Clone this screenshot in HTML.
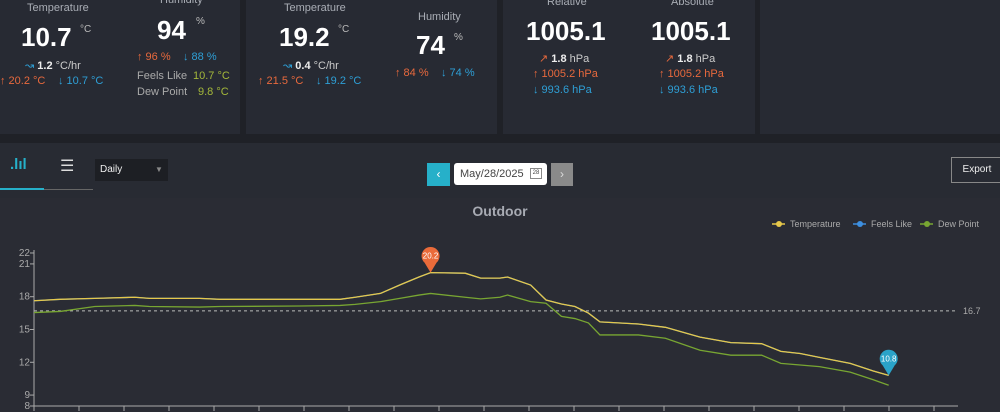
<!DOCTYPE html>
<html><head><meta charset="utf-8"><style>
body{margin:0;width:1000px;height:412px;overflow:hidden;background:#1f2127;font-family:"Liberation Sans",sans-serif;position:relative}
div,span{position:absolute;white-space:nowrap}
.card{background:#272a33;top:0;height:134px}
.lab{color:#a9adb5;font-size:11px}
.big{color:#fff;font-weight:bold;font-size:26px}
.u{color:#bbb;font-size:10px}
.s{font-size:11px;color:#ccc}
.hi{color:#e8693d}.lo{color:#2e9fd6}.gr{color:#a4b83a}
</style></head><body>
<div class="card" style="left:0;width:240px">
 <span class="lab" style="left:27px;top:2px">Temperature</span>
 <span class="big" style="left:21px;top:22px">10.7</span><span class="u" style="left:80px;top:24px">°C</span>
 <span class="s" style="left:25px;top:59px"><span class="lo" style="position:static">↝</span> <b style="color:#eee">1.2</b> °C/hr</span>
 <span class="s hi" style="left:0;top:75px">↑ 20.2 °C</span><span class="s lo" style="left:58px;top:75px">↓ 10.7 °C</span>
 <span class="lab" style="left:160px;top:-6px">Humidity</span>
 <span class="big" style="left:157px;top:15px">94</span><span class="u" style="left:196px;top:16px">%</span>
 <span class="s hi" style="left:137px;top:51px">↑ 96 %</span><span class="s lo" style="left:183px;top:51px">↓ 88 %</span>
 <span class="s" style="left:137px;top:70px;color:#aaa">Feels Like</span><span class="s gr" style="left:193px;top:70px">10.7 °C</span>
 <span class="s" style="left:137px;top:86px;color:#aaa">Dew Point</span><span class="s gr" style="left:198px;top:86px">9.8 °C</span>
</div>
<div class="card" style="left:246px;width:251px">
 <span class="lab" style="left:38px;top:2px">Temperature</span>
 <span class="big" style="left:33px;top:22px">19.2</span><span class="u" style="left:92px;top:24px">°C</span>
 <span class="s" style="left:37px;top:59px"><span class="lo" style="position:static">↝</span> <b style="color:#eee">0.4</b> °C/hr</span>
 <span class="s hi" style="left:12px;top:75px">↑ 21.5 °C</span><span class="s lo" style="left:70px;top:75px">↓ 19.2 °C</span>
 <span class="lab" style="left:172px;top:11px">Humidity</span>
 <span class="big" style="left:170px;top:30px">74</span><span class="u" style="left:208px;top:32px">%</span>
 <span class="s hi" style="left:149px;top:67px">↑ 84 %</span><span class="s lo" style="left:195px;top:67px">↓ 74 %</span>
</div>
<div class="card" style="left:503px;width:252px">
 <span class="lab" style="left:44px;top:-4px">Relative</span><span class="lab" style="left:168px;top:-4px">Absolute</span>
 <span class="big" style="left:23px;top:16px">1005.1</span><span class="big" style="left:148px;top:16px">1005.1</span>
 <span class="s" style="left:36px;top:52px"><span class="hi" style="position:static">↗</span> <b style="color:#eee">1.8</b> hPa</span>
 <span class="s" style="left:162px;top:52px"><span class="hi" style="position:static">↗</span> <b style="color:#eee">1.8</b> hPa</span>
 <span class="s hi" style="left:30px;top:68px">↑ 1005.2 hPa</span><span class="s hi" style="left:156px;top:68px">↑ 1005.2 hPa</span>
 <span class="s lo" style="left:30px;top:84px">↓ 993.6 hPa</span><span class="s lo" style="left:156px;top:84px">↓ 993.6 hPa</span>
</div>
<div class="card" style="left:760px;width:240px"></div>
<div style="left:0;top:143px;width:1000px;height:55px;background:#282b33"></div>
<div style="left:10px;top:156px;color:#26b0c9;font-size:15px;font-weight:bold">.lıl</div>
<div style="left:0;top:188px;width:44px;height:2px;background:#26b0c9"></div>
<div style="left:44px;top:189px;width:49px;height:1px;background:#666"></div>
<div style="left:60px;top:156px;color:#ddd;font-size:16px">☰</div>
<div style="left:95px;top:159px;width:73px;height:22px;background:#1d1f24;color:#eee;font-size:10px;line-height:22px"><span style="left:5px;position:absolute">Daily</span><span style="left:60px;color:#888;font-size:8px">▼</span></div>
<div style="left:427px;top:163px;width:23px;height:23px;background:#26b0c9;color:#fff;font-size:12px;text-align:center;line-height:23px">‹</div>
<div style="left:454px;top:163px;width:93px;height:22px;background:#fff;border-radius:3px;color:#444;font-size:11px;line-height:22px"><span style="left:6px">May/28/2025</span><span style="left:76px;top:5px;width:10px;height:9px;border:1px solid #888;font-size:6px;line-height:9px;text-align:center">28</span></div>
<div style="left:551px;top:163px;width:22px;height:23px;background:#8a8a8a;color:#ddd;font-size:12px;text-align:center;line-height:23px">›</div>
<div style="left:951px;top:157px;width:50px;height:24px;border:1px solid #888;color:#eee;font-size:10px;line-height:24px;text-align:center">Export</div>
<div style="left:0;top:198px;width:1000px;height:214px;background:#2a2c34"></div>
<svg style="position:absolute;left:0;top:0" width="1000" height="412" id="ch"></svg>
<script>
const hours=[0,0.68,1.58,2.62,3.0,4.3,4.83,6.9,7.95,8.34,9.0,9.5,10.0,10.3,11.2,11.6,12.1,12.3,12.9,13.3,13.7,14.05,14.4,14.7,15.7,16.4,17.3,18.1,18.9,19.4,19.9,20.4,21.2,21.8,22.2];
const temperature=[17.63,17.76,17.85,17.95,17.85,17.85,17.76,17.76,17.76,17.95,18.3,19.07,19.8,20.2,20.15,19.7,19.7,19.8,19.07,17.7,17.33,17.1,16.5,15.7,15.5,15.2,14.3,13.8,13.7,13.0,12.8,12.45,11.9,11.2,10.8];
const dewPoint=[16.55,16.65,17.1,17.2,17.1,17.05,17.1,17.15,17.2,17.3,17.55,17.85,18.15,18.3,17.95,17.8,17.95,18.15,17.55,17.4,16.2,16.0,15.6,14.5,14.5,14.2,13.1,12.65,12.65,11.9,11.75,11.6,11.1,10.4,9.9];
const feelsLike=temperature.slice();
const yTicks=[8,9,12,15,18,21,22];
const avgLine=16.7;
const maxLabel="20.2", minLabel="10.8";
const X=h=>34+h*38.5, Y=v=>406-(v-8)*10.93;
const svg=document.getElementById('ch'),NS='http://www.w3.org/2000/svg';
function mk(t,a,txt){const e=document.createElementNS(NS,t);for(const k in a)e.setAttribute(k,a[k]);if(txt!=null)e.textContent=txt;svg.appendChild(e);return e;}
let e;
e=mk('text',{x:500,y:216,'text-anchor':'middle',fill:'#a8abb3','font-size':14,'font-weight':'bold','font-family':'Liberation Sans'},'Outdoor');


const leg=[['Temperature','#e6c84a',782],['Feels Like','#3d8fe0',863],['Dew Point','#78a632',930]];
leg.forEach(l=>{
 e=mk('line',{x1:l[2]-10,y1:224,x2:l[2]+3,y2:224,stroke:l[1],'stroke-width':1.5});
 
 
 e=mk('circle',{cx:l[2]-3,cy:224,r:3,fill:l[1]});
 
 
 e=mk('text',{x:l[2]+8,y:227,fill:'#aaa','font-size':9,'font-family':'Liberation Sans'},l[0]);
 
 
});
e=mk('line',{x1:34,y1:250,x2:34,y2:406,stroke:'#aaa'});


e=mk('line',{x1:34,y1:406,x2:958,y2:406,stroke:'#aaa'});


yTicks.forEach(v=>{
 e=mk('line',{x1:30,y1:Y(v),x2:34,y2:Y(v),stroke:'#aaa'});
 
 
 e=mk('text',{x:30,y:Y(v)+3,'text-anchor':'end',fill:'#aaa','font-size':10,'font-family':'Liberation Sans'},v);
 
 
});
for(let i=0;i<=20;i++){const x=34+i*45;
 e=mk('line',{x1:x,y1:406,x2:x,y2:411,stroke:'#aaa'});
 
 
}
e=mk('line',{x1:34,y1:Y(avgLine),x2:958,y2:Y(avgLine),stroke:'#bbb','stroke-dasharray':'3,3'});


e=mk('text',{x:963,y:Y(avgLine)+3,fill:'#aaa','font-size':9,'font-family':'Liberation Sans'},avgLine);


function path(vals,col,name){const d=vals.map((v,i)=>(i?'L':'M')+X(hours[i])+','+Y(v)).join('');
 e=mk('path',{d:d,fill:'none',stroke:col,'stroke-width':1.3});
 
 }
path(feelsLike,'#3d8fe0','feels-like-line');
path(dewPoint,'#78a632','dew-point-line');
path(temperature,'#e6c84a','temperature-line');
function pin(i,col,txt,name){const x=X(hours[i]),y=Y(temperature[i]);
 e=mk('path',{d:`M${x},${y} L${x-6},${y-10} A9,9 0 1 1 ${x+6},${y-10} Z`,fill:col});
 
 
 e=mk('text',{x:x,y:y-14,'text-anchor':'middle',fill:'#fff','font-size':8,'font-family':'Liberation Sans'},txt);
 
 }
let mi=temperature.indexOf(Math.max(...temperature)),ni=temperature.indexOf(Math.min(...temperature));
pin(mi,'#ea6b3a',maxLabel,'max-marker');
pin(ni,'#2aa3c8',minLabel,'min-marker');
</script>
</body></html>
